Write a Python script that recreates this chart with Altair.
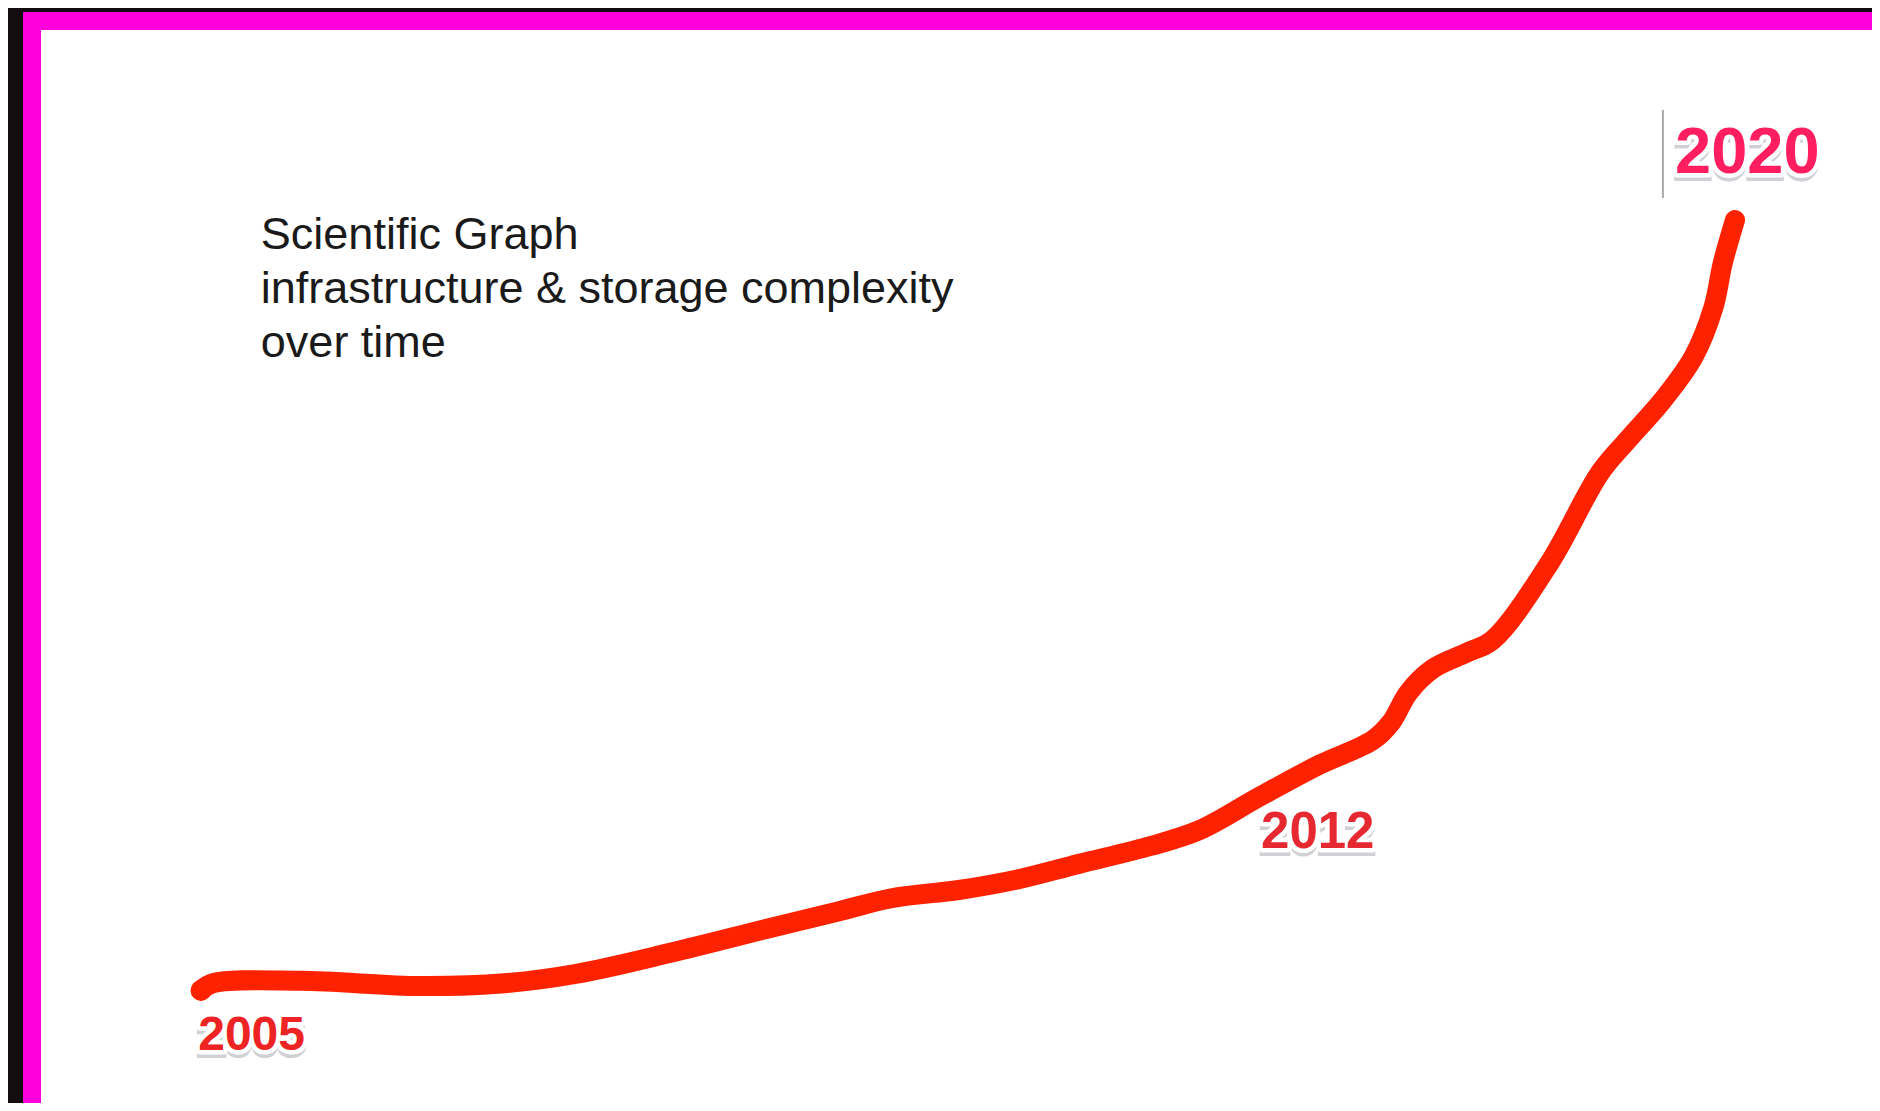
import altair as alt
import pandas as pd

# Curve: time progress (0 = 2005 ... 100 = 2020), complexity in arbitrary units
time_pos = [0, 0.8, 6.5, 14.3, 19.8, 24.4, 30.6, 36.9, 41.6, 45.1, 49.4, 53.3, 57.2,
            61.9, 65.1, 69.0, 72.9, 76.4, 77.6, 78.7, 80.3, 82.5, 84.2, 87.9, 91.2,
            93.0, 95.3, 97.3, 98.6, 99.2, 100]
complexity = [2.2, 3.1, 3.4, 2.75, 3.1, 4.25, 6.9, 9.9, 12.1, 13.75, 14.75, 16.1, 18.0,
              20.25, 22.25, 26.4, 30.4, 33.5, 35.75, 39.4, 42.4, 44.4, 46.0, 55.6, 66.9,
              71.0, 76.0, 81.4, 87.6, 93.1, 98.5]

year_labels = ["2005", "2012", "2020"]
label_time = [3.3, 72.8, 100.8]
label_complexity = [-5.25, 20.0, 104.4]

title_lines = ["Scientific Graph", "infrastructure & storage complexity", "over time"]
title_time = [3.9]
title_complexity = [94.9]

marker_time = [95.3]
marker_from = [101.25]
marker_to = [112.25]

curve = pd.DataFrame({"t": time_pos, "c": complexity})
start = curve.iloc[[0]]
labels = pd.DataFrame({"t": label_time, "c": label_complexity, "label": year_labels})
title_df = pd.DataFrame({"t": title_time, "c": title_complexity, "txt": [title_lines]})
marker_df = pd.DataFrame({"t": marker_time, "c": marker_from, "c2": marker_to})

xs = alt.Scale(domain=[0, 100], range=[169, 1703], nice=False, zero=False)
ys = alt.Scale(domain=[0, 100], range=[987, 187], nice=False, zero=False)

X = alt.X("t:Q", scale=xs, axis=None)
Y = alt.Y("c:Q", scale=ys, axis=None)

line = alt.Chart(curve).mark_line(
    color="#FF2200", strokeWidth=20, strokeCap="round", strokeJoin="round",
    interpolate="catmull-rom"
).encode(x=X, y=Y)

dot = alt.Chart(start).mark_circle(color="#FF2200", size=440, opacity=1).encode(x=X, y=Y)

marker = alt.Chart(marker_df).mark_rule(color="#AAAAAA", strokeWidth=2).encode(
    x=X, y=Y, y2="c2:Q")

title = alt.Chart(title_df).mark_text(
    font="Liberation Sans", fontSize=45, lineHeight=54, align="left",
    baseline="alphabetic", color="#1a1a1a"
).encode(x=X, y=Y, text="txt")

label_layers = []
styles = {"2005": (48, "#EE2424"), "2012": (51, "#E62830"), "2020": (65, "#FF1F60")}
for yr in year_labels:
    d = labels[labels["label"] == yr]
    fs, col = styles[yr]
    base = alt.Chart(d).encode(x=X, y=Y, text="label")
    shadow = base.mark_text(font="Liberation Sans", fontWeight="bold", fontSize=fs,
                            align="center", baseline="alphabetic", dy=5,
                            fill="#7a7a8a", stroke="#7a7a8a", strokeWidth=6,
                            opacity=0.35)
    halo = base.mark_text(font="Liberation Sans", fontWeight="bold", fontSize=fs,
                          align="center", baseline="alphabetic",
                          fill="white", stroke="white", strokeWidth=9,
                          strokeJoin="round")
    fill = base.mark_text(font="Liberation Sans", fontWeight="bold", fontSize=fs,
                          align="center", baseline="alphabetic", fill=col)
    label_layers += [shadow, halo, fill]

chart = alt.layer(line, dot, marker, title, *label_layers).properties(
    width=1850, height=1102,
    padding={"left": 24, "top": 13, "right": -10, "bottom": -20},
    autosize="none",
    background="#140d10",
).configure_view(fill="white", stroke="#FF00DC", strokeWidth=18)

chart.save("out.html", embed_options={"renderer": "svg", "actions": False})
